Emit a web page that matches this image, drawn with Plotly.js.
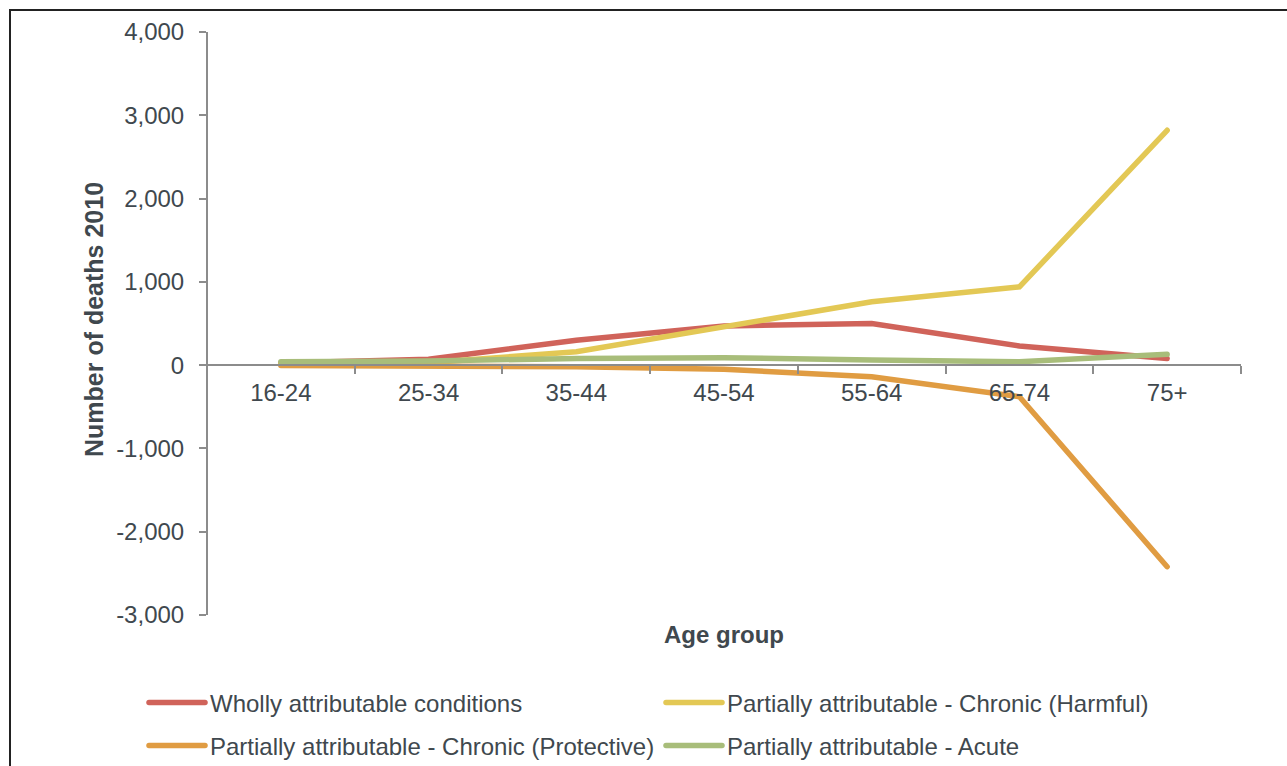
<!DOCTYPE html>
<html>
<head>
<meta charset="utf-8">
<script src="https://cdn.plot.ly/plotly-3.0.1.min.js"></script>
<style>
  html, body { margin: 0; padding: 0; background: #fff; }
  #chart { width: 1287px; height: 766px; }
  #frame { position: absolute; left: 9px; top: 9px; width: 1400px; height: 900px;
           border-left: 2px solid #222; border-top: 2px solid #222; pointer-events: none; }
  .js-line { stroke-linecap: round; }
  .legendlines path { stroke-linecap: round; }
</style>
</head>
<body>
<div id="frame"></div>
<div id="chart"></div>
<script>
const ageGroups = ["16-24", "25-34", "35-44", "45-54", "55-64", "65-74", "75+"];
const whollyAttributable = [25, 70, 300, 470, 500, 230, 80];
const chronicHarmful = [10, 30, 160, 460, 760, 940, 2820];
const chronicProtective = [-5, -10, -20, -50, -140, -380, -2420];
const acute = [40, 50, 80, 90, 62, 40, 130];
const seriesNames = [
  "Wholly attributable conditions",
  "Partially attributable - Chronic (Harmful)",
  "Partially attributable - Chronic (Protective)",
  "Partially attributable - Acute"
];
const yTickVals = [-3000, -2000, -1000, 0, 1000, 2000, 3000, 4000];
const yTickLabels = ["-3,000", "-2,000", "-1,000", "0", "1,000", "2,000", "3,000", "4,000"];

const colors = ["#d0635a", "#e3c855", "#e09c42", "#a8bd7a"];
const seriesData = [whollyAttributable, chronicHarmful, chronicProtective, acute];
const legendIds = ["legend", "legend2", "legend3", "legend4"];
// legend item positions in container pixels: [line start x, row center y]
const legendPos = [[144, 703], [661, 703], [144, 746], [661, 746]];

const traces = seriesData.map((vals, i) => ({
  type: "scatter",
  mode: "lines",
  x: ageGroups,
  y: vals,
  name: seriesNames[i],
  line: { color: colors[i], width: 5.5 },
  legend: legendIds[i],
  hoverinfo: "x+y+name"
}));

const textColor = "#40484e";
const fontFam = "'Liberation Sans', Arial, Helvetica, sans-serif";
const yMin = -3000, yMax = 4000;

const layout = {
  width: 1287,
  height: 766,
  margin: { l: 207, r: 46, t: 32, b: 151 },
  paper_bgcolor: "rgba(0,0,0,0)",
  plot_bgcolor: "rgba(0,0,0,0)",
  font: { family: fontFam, size: 24, color: textColor },
  showlegend: true,
  xaxis: {
    type: "category",
    range: [-0.5, 6.5],
    anchor: "free",
    position: (0 - yMin) / (yMax - yMin),
    automargin: false,
    showline: true,
    linecolor: "#8c8c8c",
    linewidth: 2,
    ticks: "outside",
    tickson: "boundaries",
    ticklen: 8,
    tickwidth: 1.5,
    tickcolor: "#8c8c8c",
    showgrid: false,
    zeroline: false,
    tickfont: { size: 24, color: textColor },
    ticklabelstandoff: 6
  },
  yaxis: {
    range: [yMin, yMax],
    tickvals: yTickVals,
    ticktext: yTickLabels,
    anchor: "free",
    position: 0,
    automargin: false,
    showline: true,
    linecolor: "#8c8c8c",
    linewidth: 2,
    ticks: "outside",
    ticklen: 7,
    tickwidth: 1.5,
    tickcolor: "#8c8c8c",
    showgrid: false,
    zeroline: false,
    tickfont: { size: 24, color: textColor },
    ticklabelstandoff: 10
  },
  annotations: [
    {
      text: "<b>Number of deaths 2010</b>",
      xref: "paper", yref: "paper",
      x: (94 - 207) / 1034, y: (615 - 320) / 583,
      xanchor: "center", yanchor: "middle",
      textangle: -90, showarrow: false,
      font: { size: 25, color: textColor }
    },
    {
      text: "<b>Age group</b>",
      xref: "paper", yref: "paper",
      x: 0.5, y: (615 - 634) / 583,
      xanchor: "center", yanchor: "middle",
      showarrow: false,
      font: { size: 24, color: textColor }
    }
  ]
};

legendIds.forEach((id, i) => {
  layout[id] = {
    orientation: "h",
    xref: "container", yref: "container",
    xanchor: "left", yanchor: "middle",
    x: legendPos[i][0] / 1287,
    y: 1 - legendPos[i][1] / 766,
    itemwidth: 56,
    font: { size: 24, color: textColor },
    bgcolor: "rgba(0,0,0,0)",
    itemclick: false, itemdoubleclick: false
  };
});

Plotly.newPlot("chart", traces, layout, { displayModeBar: false });
</script>
</body>
</html>
